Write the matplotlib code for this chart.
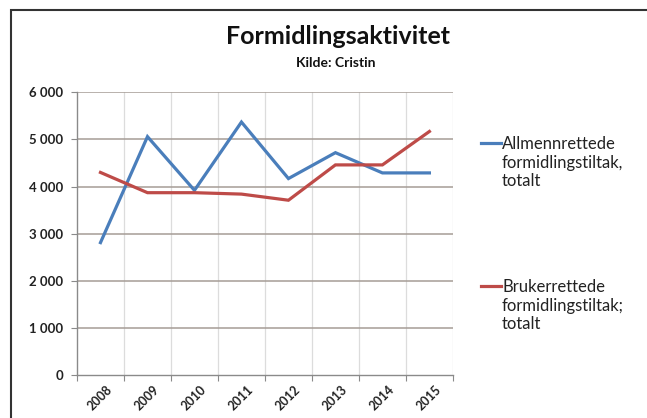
import numpy as np
import matplotlib
matplotlib.use('Agg')
import matplotlib.pyplot as plt
from matplotlib.lines import Line2D
from matplotlib.patches import Rectangle

plt.rcParams['font.family'] = ['Lato', 'DejaVu Sans']

# ---- Data ----
years = ['2008', '2009', '2010', '2011', '2012', '2013', '2014', '2015']
allmenn = [2810, 5060, 3920, 5370, 4170, 4720, 4290, 4290]
bruker = [4300, 3870, 3870, 3840, 3710, 4460, 4460, 5170]
series_labels = ['Allmennrettede\nformidlingstiltak,\ntotalt',
                 'Brukerrettede\nformidlingstiltak;\ntotalt']
yticks = [0, 1000, 2000, 3000, 4000, 5000, 6000]

BLUE = '#4a7ebb'
RED = '#be4b48'

fig = plt.figure(figsize=(6.47, 4.18), dpi=100)
ax = fig.add_axes([0.119, 0.103, 0.581, 0.676])

x = np.arange(len(years))
ax.plot(x, allmenn, color=BLUE, lw=2.3, solid_joinstyle='miter')
ax.plot(x, bruker, color=RED, lw=2.3, solid_joinstyle='miter')

ax.set_xlim(-0.5, len(years) - 0.5)
ax.set_ylim(0, 6000)
ax.set_yticks(yticks)
ax.set_yticklabels([f'{v:,}'.replace(',', ' ') for v in yticks], fontsize=9.5, fontweight='bold', color='#222222')

# category boundaries for vertical grid and ticks
bounds = np.arange(len(years) + 1) - 0.5
ax.set_xticks(bounds)
ax.set_xticklabels([])
ax.set_xticks(x, minor=True)
ax.set_xticklabels(years, minor=True, rotation=45, ha='center', va='top',
                   fontsize=9, fontweight='bold', color='#222222')
ax.tick_params(axis='x', which='minor', length=0, pad=6)
ax.tick_params(axis='x', which='major', length=4, color='#8a8a8a', direction='out')
ax.tick_params(axis='y', length=4, color='#8a8a8a', pad=6)

for b in bounds[1:]:
    ax.axvline(b, color='#dcdcdc', lw=0.9, zorder=0)
for v in yticks[1:]:
    ax.axhline(v, color='#a69d96', lw=1.1, zorder=0)

for s in ['top', 'right']:
    ax.spines[s].set_visible(False)
for s in ['left', 'bottom']:
    ax.spines[s].set_color('#8a8a8a')
    ax.spines[s].set_linewidth(1.0)

# Title
fig.text(0.522, 0.912, 'Formidlingsaktivitet', ha='center', va='center',
         fontsize=18, fontweight='bold', color='#111111')
fig.text(0.519, 0.850, 'Kilde: Cristin', ha='center', va='center',
         fontsize=10, fontweight='bold', color='#111111')

# Legend (manual)
for label, color, ytop in [(series_labels[0], BLUE, 143), (series_labels[1], RED, 286)]:
    yf = 1 - ytop / 418
    fig.add_artist(Line2D([481 / 647, 501 / 647], [yf, yf], color=color, lw=2.3,
                          transform=fig.transFigure))
    fig.text(502 / 647, yf + 7 / 418, label, ha='left', va='top', fontsize=12,
             color='#222222', linespacing=1.2)

# outer frame
fig.add_artist(Rectangle((11 / 647, -0.1), 1.2, 1 - 10 / 418 + 0.1, transform=fig.transFigure,
                         fill=False, edgecolor='#333333', lw=1.5))

fig.savefig('out.png', dpi=100)
